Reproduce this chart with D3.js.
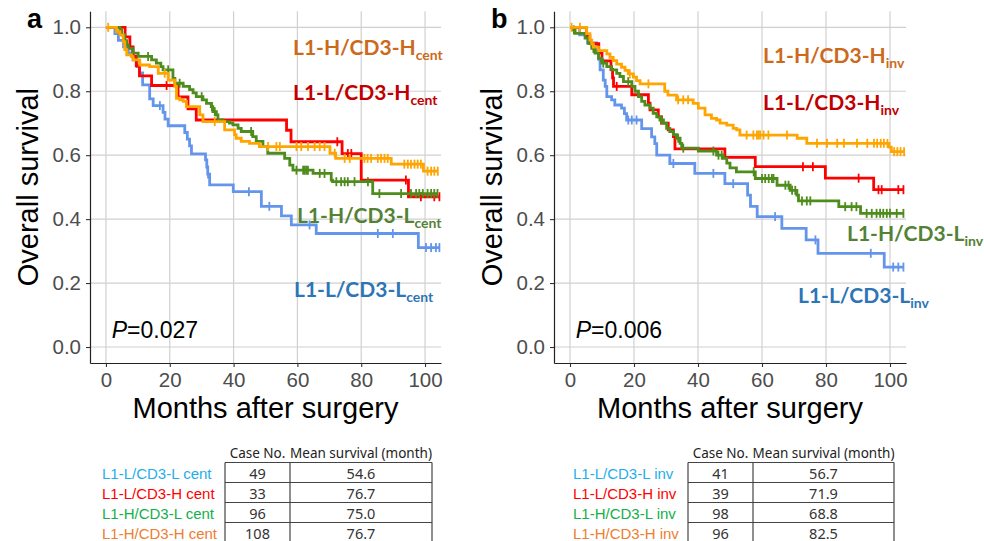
<!DOCTYPE html>
<html>
<head>
<meta charset="utf-8">
<script src="https://cdn.jsdelivr.net/npm/d3@7"></script>
<style>
  body { margin: 0; background: #fff; }
  text { font-family: "Liberation Sans", Arial, sans-serif; }
</style>
</head>
<body>
<svg id="chart" width="984" height="541"></svg>
<script>
// ---- data ------------------------------------------------------------
var monthTicks = [0, 20, 40, 60, 80, 100];
var survTicks = [0, 0.2, 0.4, 0.6, 0.8, 1.0];

// panel a (central) : [month, survival] steps and censor times
var aBlueSteps = [[0,1],[2.8,.98],[3.9,.959],[5.5,.939],[7,.918],[8.5,.898],[9.8,.877],[10.5,.857],[11.5,.82],[13.7,.776],[14.8,.755],[17.9,.734],[18.5,.713],[19.5,.692],[24.7,.671],[25.5,.65],[26.2,.629],[26.8,.604],[31.2,.585],[31.6,.563],[31.9,.541],[32.5,.507],[39.9,.486],[48.7,.44],[55,.41],[58.1,.382],[65.9,.355],[97.9,.311]];
var aBlueCens = [8, 16.9, 32, 44.8, 51.2, 63.8, 85.2, 89.9, 100.3, 101.9, 103.4, 104.5];
var aRedSteps = [[0,1],[6,.97],[7.5,.939],[8.5,.909],[9.5,.879],[10.5,.848],[14.3,.818],[22.6,.782],[25.7,.745],[28.3,.71],[56.6,.678],[58,.642],[74,.605],[80,.522],[94.8,.47]];
var aRedCens = [19, 72.5, 75.8, 76.9, 94, 98.7, 102.9, 104.5];
var aGreenSteps = [[0,1],[4.4,.99],[4.9,.976],[5.9,.958],[6.5,.945],[7,.934],[8.5,.919],[10.1,.909],[14.3,.898],[15.8,.888],[17.2,.877],[17.9,.867],[21,.84],[21.6,.825],[24.2,.815],[26.2,.805],[27.3,.795],[28.3,.783],[30.4,.773],[31.5,.762],[33,.752],[33.5,.736],[34.6,.726],[35.1,.71],[36.7,.705],[38.7,.7],[39.8,.695],[41.4,.684],[42.4,.674],[46,.658],[47.1,.643],[49.2,.627],[50.7,.606],[56,.59],[57.6,.569],[58.6,.553],[64.9,.543],[70.6,.522],[71,.517],[83.6,.48]];
var aGreenCens = [13.2, 19.5, 23.1, 30, 33.2, 34.1, 45.5, 59.7, 61.8, 62.3, 62.8, 63.3, 67, 68.5, 72.2, 73.7, 74.8, 75.8, 77.9, 82.1, 85.7, 92.5, 95.6, 97.2, 98.2, 99.3, 100.8, 101.9, 102.9, 103.9];
var aOrangeSteps = [[0,1],[3.3,.986],[4.4,.976],[5.4,.955],[5.9,.93],[6.5,.914],[8,.908],[8.5,.898],[10.6,.882],[13.7,.877],[16.4,.856],[19.5,.835],[21.6,.815],[22.1,.778],[23.1,.773],[24.2,.768],[25.2,.752],[29.4,.726],[30.4,.705],[37.2,.679],[40.3,.664],[40.8,.653],[42.4,.643],[45,.637],[48.1,.627],[70.2,.606],[72,.59],[89.4,.572],[99.5,.55]];
var aOrangeCens = [0.7, 18.4, 34.1, 50.8, 53.4, 54.5, 59.7, 61.2, 63.3, 65.4, 67, 68.5, 71.7, 74.8, 76.4, 81, 82, 83.1, 85.2, 86.2, 87.3, 88.3, 93.5, 94.6, 95.6, 96.7, 97.7, 98.7, 100.8, 101.9, 102.9, 104];

// panel b (invasive margin)
var bBlueSteps = [[0,1],[3,.976],[5.5,.951],[8.3,.927],[9,.9],[9.4,.867],[10.4,.835],[11,.815],[11.5,.783],[13,.773],[14,.757],[16.1,.747],[17,.73],[17.7,.71],[22.4,.683],[25.5,.657],[26.5,.636],[27.1,.6],[31.2,.574],[39,.543],[48.4,.511],[55.5,.475],[56.4,.44],[58.5,.408],[66.2,.371],[73.8,.335],[77.5,.293],[98.2,.25]];
var bBlueCens = [18.2, 19.3, 20.8, 32.3, 44.8, 51, 64.1, 76.7, 94, 101, 102.6, 104.2];
var bRedSteps = [[0,1],[5.2,.974],[6.2,.949],[9,.92],[10,.895],[12.8,.868],[13.3,.842],[13.6,.815],[19.3,.789],[24.5,.763],[25,.742],[27.6,.72],[28.6,.7],[30.7,.679],[32.3,.658],[32.8,.62],[48.4,.593],[57.9,.564],[79.8,.528],[94.9,.492]];
var bRedCens = [6.8, 14.6, 72.8, 75.9, 90.2, 96.4, 97.4, 102.6, 104.2];
var bGreenSteps = [[0,1],[1,.992],[1.6,.981],[4.7,.966],[5.7,.95],[6.8,.934],[7.8,.919],[8.9,.903],[9.9,.888],[11.5,.877],[13,.867],[14.6,.856],[15.6,.846],[16.7,.83],[19.3,.815],[20.3,.8],[21.4,.783],[22.4,.768],[23.4,.757],[25,.747],[26,.731],[27.1,.72],[28.1,.71],[29.2,.7],[30.2,.684],[31.2,.674],[32.3,.664],[33.3,.653],[34.4,.637],[34.9,.622],[40.1,.613],[45.8,.6],[47.9,.59],[49,.575],[50,.56],[52,.548],[57.9,.527],[64.7,.506],[68.8,.49],[70.9,.475],[71.4,.457],[84,.439],[90.8,.418]];
var bGreenCens = [1.2, 7.3, 10.4, 18.2, 28.6, 33.8, 35.4, 44.8, 46.4, 47.4, 57.4, 60, 61, 62.1, 63.1, 63.6, 67.3, 68.3, 69.4, 70.4, 72.5, 74, 75.1, 86, 88, 89.5, 92.7, 94.3, 95.8, 96.9, 97.9, 99, 100, 102.1, 104.2];
var bOrangeSteps = [[0,1],[5.2,.98],[6.2,.96],[6.8,.948],[7.3,.938],[8.9,.927],[11.5,.917],[12.5,.906],[13.5,.896],[14.6,.885],[16.1,.875],[17.2,.865],[18.2,.854],[19.8,.844],[20.8,.833],[21.9,.823],[29.6,.8],[30.6,.788],[33.3,.773],[38.5,.762],[40.1,.747],[42.2,.726],[44.2,.715],[45.8,.71],[46.9,.7],[49,.694],[51,.684],[52.1,.679],[53.1,.663],[71,.653],[74,.637],[99.7,.625],[100.4,.611]];
var bOrangeCens = [0.5, 3.1, 18.7, 24.5, 33.8, 35.4, 36.9, 55.2, 57.3, 58.4, 58.9, 59.4, 60.5, 62, 67.8, 77.2, 80.3, 83.5, 85.6, 89.7, 92.9, 95, 96, 97.1, 98.1, 99.2, 101.3, 102.3, 103.3, 104.4];

// tables
var groupsA = ["L1-L/CD3-L cent", "L1-L/CD3-H cent", "L1-H/CD3-L cent", "L1-H/CD3-H cent"];
var casesA = [49, 33, 96, 108];
var meanA = ["54.6", "76.7", "75.0", "76.7"];
var groupsB = ["L1-L/CD3-L inv", "L1-L/CD3-H inv", "L1-H/CD3-L inv", "L1-H/CD3-H inv"];
var casesB = [41, 39, 98, 96];
var meanB = ["56.7", "71.9", "68.8", "82.5"];
var headers = ["Case No.", "Mean survival (month)"];

// ---- styles ------------------------------------------------------------
var lineColors = ["#6495ED", "#FF0000", "#4E8C1C", "#FFA500"];   // LL, LH, HL, HH
var labelColors = ["#2E75B6", "#C00000", "#548235", "#CC6A1C"];
var tableColors = ["#1FAEEA", "#FF0000", "#12B04A", "#EE7D31"];

var svg = d3.select("#chart");

var y = d3.scaleLinear().domain([-0.05, 1.05]).range([363, 11.3]);

var panels = [
    {letter: "a", left: 90, right: 441, p: "0.027", sub: "cent",
     curves: [[aBlueSteps, aBlueCens], [aRedSteps, aRedCens], [aGreenSteps, aGreenCens], [aOrangeSteps, aOrangeCens]],
     labels: [[294, 297], [293, 100], [297, 223], [293, 55]],
     table: {labelX: 102, l: 225, mid: 290, r: 432, groups: groupsA, cases: casesA, mean: meanA}},
    {letter: "b", left: 554, right: 906, p: "0.006", sub: "inv",
     curves: [[bBlueSteps, bBlueCens], [bRedSteps, bRedCens], [bGreenSteps, bGreenCens], [bOrangeSteps, bOrangeCens]],
     labels: [[798, 303], [763, 110], [847, 241], [763, 63]],
     table: {labelX: 573, l: 688, mid: 753, r: 894, groups: groupsB, cases: casesB, mean: meanB}}
];
var labelTexts = ["L1-L/CD3-L", "L1-L/CD3-H", "L1-H/CD3-L", "L1-H/CD3-H"];

function survAt(steps, t) {
    var s = 1;
    steps.forEach(function(d) { if (d[0] <= t) s = d[1]; });
    return s;
}

panels.forEach(function(p) {
    var x = d3.scaleLinear().domain([-5, 105]).range([p.left, p.right]);
    var g = svg.append("g");

    // grid
    g.selectAll(".gx").data(monthTicks).enter().append("line")
        .attr("x1", function(d) { return x(d) }).attr("x2", function(d) { return x(d) })
        .attr("y1", y(1.05)).attr("y2", y(-0.05))
        .attr("stroke", "#d0d0d0").attr("stroke-width", 1.2);
    g.selectAll(".gy").data(survTicks).enter().append("line")
        .attr("x1", p.left).attr("x2", p.right)
        .attr("y1", function(d) { return y(d) }).attr("y2", function(d) { return y(d) })
        .attr("stroke", "#d0d0d0").attr("stroke-width", 1.2);

    // axes
    var xAxis = d3.axisBottom(x).tickValues(monthTicks).tickSize(4).tickPadding(5).tickSizeOuter(0);
    var yAxis = d3.axisLeft(y).tickValues(survTicks).tickSize(4).tickPadding(5).tickSizeOuter(0)
        .tickFormat(d3.format(".1f"));
    var gx = g.append("g").attr("transform", "translate(0," + y(-0.05) + ")").call(xAxis);
    var gy = g.append("g").attr("transform", "translate(" + p.left + ",0)").call(yAxis);
    [gx, gy].forEach(function(a) {
        a.select(".domain").attr("stroke", "#222").attr("stroke-width", 1.2);
        a.selectAll(".tick line").attr("stroke", "#333").attr("stroke-width", 1.1);
        a.selectAll(".tick text").attr("fill", "#4d4d4d").style("font-size", "20.5px")
            .style("font-family", '"Liberation Sans", Arial, sans-serif');
    });

    // curves
    var line = d3.line().curve(d3.curveStepAfter)
        .x(function(d) { return x(d[0]) }).y(function(d) { return y(d[1]) });
    p.curves.forEach(function(c, i) {
        var steps = c[0], cens = c[1];
        var end = Math.max(d3.max(cens), steps[steps.length - 1][0]);
        var pts = steps.concat([[end, steps[steps.length - 1][1]]]);
        g.append("path").datum(pts).attr("d", line)
            .attr("fill", "none").attr("stroke", lineColors[i]).attr("stroke-width", 2.8);
        g.selectAll(".c" + i).data(cens).enter().append("line")
            .attr("x1", function(d) { return x(d) }).attr("x2", function(d) { return x(d) })
            .attr("y1", function(d) { return y(survAt(steps, d)) - 4.5 })
            .attr("y2", function(d) { return y(survAt(steps, d)) + 4.5 })
            .attr("stroke", lineColors[i]).attr("stroke-width", 1.8);
    });

    // group labels
    p.labels.forEach(function(pos, i) {
        var t = g.append("text").attr("x", pos[0]).attr("y", pos[1])
            .attr("fill", labelColors[i]).style("font-family", "Lato, sans-serif")
            .style("font-weight", 700).style("font-size", "21px");
        t.append("tspan").text(labelTexts[i]);
        t.append("tspan").attr("dy", 5).style("font-size", "14px").text(p.sub);
    });

    // p value
    var pt = g.append("text").attr("x", x(1.8)).attr("y", 338).style("font-size", "23px").attr("fill", "#000");
    pt.append("tspan").style("font-style", "italic").text("P");
    pt.append("tspan").text("=" + p.p);

    // axis titles
    g.append("text").attr("x", (p.left + p.right) / 2).attr("y", 418).attr("text-anchor", "middle")
        .style("font-size", "29px").text("Months after surgery");
    g.append("text").attr("transform", "translate(" + (p.left - 52) + "," + y(0.5) + ") rotate(-90)")
        .attr("text-anchor", "middle").style("font-size", "29px").text("Overall survival");
    g.append("text").attr("x", p.left - 63).attr("y", 28).style("font-size", "27px")
        .style("font-weight", "bold").text(p.letter);

    // summary table
    var tb = p.table, top = 462.5, rowH = 20;
    var tg = svg.append("g");
    tg.selectAll(".hl").data([0, 1, 2, 3, 4]).enter().append("line")
        .attr("x1", tb.l).attr("x2", tb.r)
        .attr("y1", function(d) { return top + d * rowH }).attr("y2", function(d) { return top + d * rowH })
        .attr("stroke", "#444").attr("stroke-width", 1.2);
    tg.selectAll(".vl").data([tb.l, tb.mid, tb.r]).enter().append("line")
        .attr("x1", function(d) { return d }).attr("x2", function(d) { return d })
        .attr("y1", top).attr("y2", top + 4 * rowH)
        .attr("stroke", "#444").attr("stroke-width", 1.2);
    var cx1 = (tb.l + tb.mid) / 2, cx2 = (tb.mid + tb.r) / 2;
    [cx1, cx2].forEach(function(cx, j) {
        tg.append("text").attr("x", cx).attr("y", 458).attr("text-anchor", "middle")
            .style("font-family", '"Noto Sans", sans-serif').style("font-size", "13.5px")
            .attr("fill", "#222").text(headers[j]);
    });
    tb.groups.forEach(function(name, i) {
        var by = top + 16 + i * rowH;
        tg.append("text").attr("x", tb.labelX).attr("y", by).style("font-size", "15px")
            .attr("fill", tableColors[i]).text(name);
        tg.append("text").attr("x", cx1).attr("y", by).attr("text-anchor", "middle")
            .style("font-family", '"Noto Sans", sans-serif').style("font-size", "14.5px")
            .attr("fill", "#333").text(tb.cases[i]);
        tg.append("text").attr("x", cx2).attr("y", by).attr("text-anchor", "middle")
            .style("font-family", '"Noto Sans", sans-serif').style("font-size", "14.5px")
            .attr("fill", "#333").text(tb.mean[i]);
    });
});
</script>
</body>
</html>
